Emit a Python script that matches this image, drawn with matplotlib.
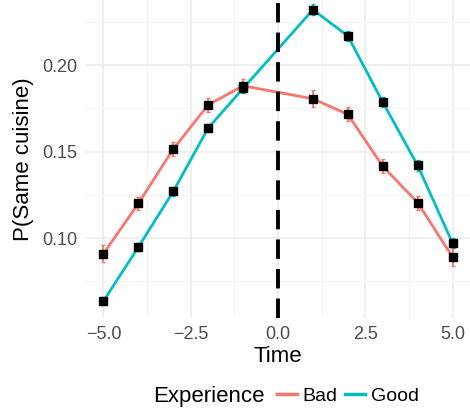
import matplotlib
matplotlib.use("Agg")
import matplotlib.pyplot as plt
from matplotlib.lines import Line2D
from matplotlib.ticker import MultipleLocator

plt.rcParams["font.family"] = ["Liberation Sans", "DejaVu Sans"]

time = [-5, -4, -3, -2, -1, 1, 2, 3, 4, 5]
bad = [0.091, 0.120, 0.1515, 0.177, 0.188, 0.1805, 0.1715, 0.1415, 0.1205, 0.089]
bad_err = [0.005, 0.004, 0.004, 0.004, 0.004, 0.005, 0.004, 0.004, 0.004, 0.005]
good = [0.0636, 0.0948, 0.127, 0.1636, 0.1865, 0.232, 0.2168, 0.1786, 0.142, 0.0971]
good_err = [0.0025, 0.0025, 0.0025, 0.0025, 0.0025, 0.003, 0.003, 0.003, 0.003, 0.003]

bad_color = "#F8766D"
good_color = "#00BFC4"

fig = plt.figure(figsize=(4.70, 4.13), dpi=100)
ax = fig.add_axes([0.183, 0.23, 0.817, 0.77])

for y, err, c in [(bad, bad_err, bad_color), (good, good_err, good_color)]:
    ax.errorbar(time, y, yerr=err, color=c, lw=2, elinewidth=1.3, capsize=1.5,
                capthick=1, zorder=3)
    ax.plot(time, y, ls="none", marker="s", ms=5.5, color="black", zorder=4)

ax.axvline(0, color="black", lw=2.8, ls=(0, (5, 2.6)), zorder=5)

ax.set_xlim(-5.5, 5.5)
ax.set_ylim(0.0538, 0.2376)
ax.set_xticks([-5, -2.5, 0, 2.5, 5])
ax.set_xticklabels(["\u22125.0", "\u22122.5", "0.0", "2.5", "5.0"])
ax.set_yticks([0.10, 0.15, 0.20])
ax.set_yticklabels(["0.10", "0.15", "0.20"])
ax.xaxis.set_minor_locator(MultipleLocator(1.25))
ax.yaxis.set_minor_locator(MultipleLocator(0.025))

ax.grid(True, which="major", color="#EBEBEB", lw=1.1)
ax.grid(True, which="minor", color="#F2F2F2", lw=0.6)
ax.set_axisbelow(True)
for s in ax.spines.values():
    s.set_visible(False)
ax.tick_params(which="both", length=0, labelsize=13, labelcolor="#4D4D4D", pad=6)

ax.set_xlabel("Time", fontsize=16, labelpad=2)
ax.set_ylabel("P(Same cuisine)", fontsize=16, labelpad=6)

fig.text(0.325, 0.04, "Experience", fontsize=16, ha="left", va="center")
handles = [Line2D([], [], color=bad_color, lw=2.5), Line2D([], [], color=good_color, lw=2.5)]
fig.legend(handles, ["Bad", "Good"], loc="center left", bbox_to_anchor=(0.59, 0.04),
           ncol=2, frameon=False, fontsize=14, handlelength=1.0, handletextpad=0.3,
           columnspacing=0.4, borderpad=0, borderaxespad=0)

fig.savefig("out.png", dpi=100)
